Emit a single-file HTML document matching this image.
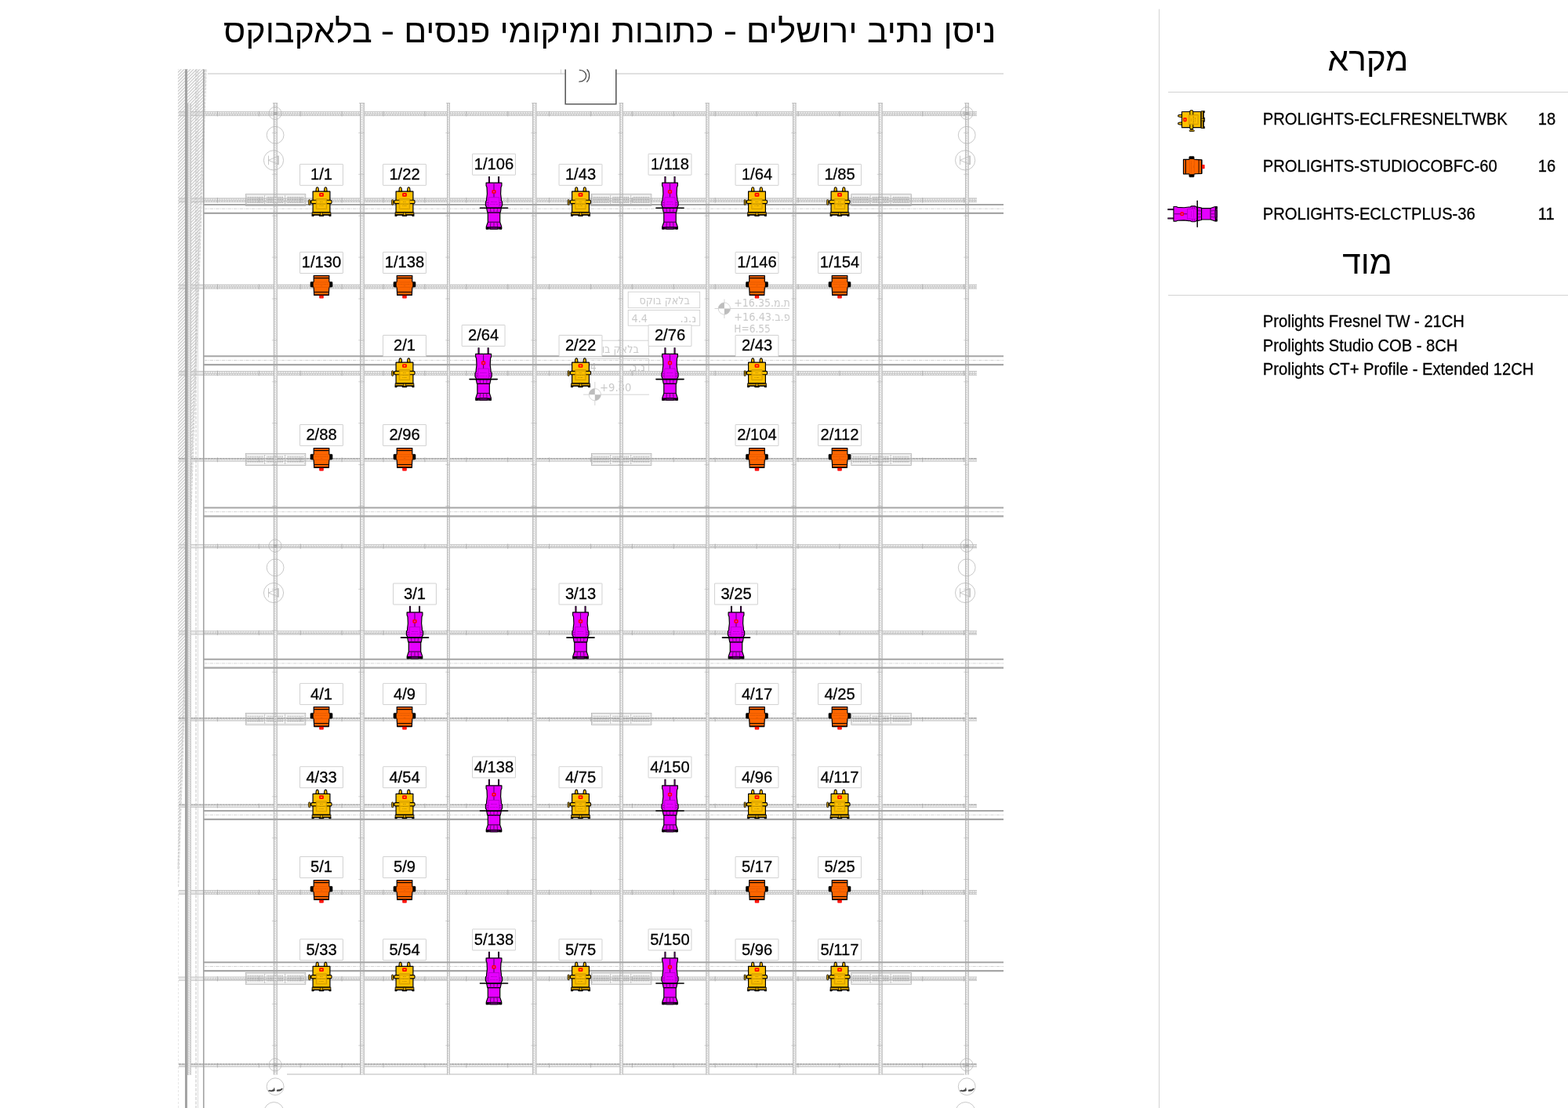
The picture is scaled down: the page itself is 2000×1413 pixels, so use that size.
<!DOCTYPE html>
<html lang="he">
<head>
<meta charset="utf-8">
<title>ניסן נתיב ירושלים - כתובות ומיקומי פנסים - בלאקבוקס</title>
<style>html,body{margin:0;padding:0;background:#fff;overflow:hidden}svg{display:block}</style>
</head>
<body>
<svg xmlns="http://www.w3.org/2000/svg" width="2000" height="1413" viewBox="0 0 2000 1413">
<defs>
<pattern id="hatch" width="4" height="4" patternUnits="userSpaceOnUse" patternTransform="translate(226.6 88.6)"><path d="M-1,5 L5,-1 M-1,1 L1,-1 M3,5 L5,3" stroke="#9c9c9c" stroke-width="0.95" fill="none"/></pattern>
<g id="fy" stroke="#000" stroke-width="1.2" stroke-linejoin="round">
<path d="M-7.2,35 L-6.7,31 Q-6.5,29.6 -5.3,29.6 Q-4.1,29.6 -3.9,31 L-3.4,35 Z" fill="#ffc000" stroke-width="1.1"/>
<path d="M3.4,35 L3.9,31 Q4.1,29.6 5.3,29.6 Q6.5,29.6 6.7,31 L7.2,35 Z" fill="#ffc000" stroke-width="1.1"/>
<rect x="-10.9" y="34.9" width="21.8" height="26.6" fill="#ffc000"/>
<rect x="-11.8" y="61.5" width="23.6" height="3.4" fill="#e0a600" stroke-width="0.9"/>
<path d="M-11.6,62 H11.6" stroke="#3a2c00" stroke-width="1.1"/>
<path d="M-12.2,64.4 H12.2 V66.6 H9.8 L9,65.3 H3.4 L2.8,66.6 H-2.8 L-3.4,65.3 H-9 L-9.8,66.6 H-12.2 Z" fill="#000" stroke-width="0.4"/>
<rect x="-1.25" y="61.8" width="2.5" height="3.6" fill="#ffc000" stroke-width="0.7"/>
<rect x="-16.3" y="45.5" width="1.9" height="6.6" rx="0.7" fill="#ffc000" stroke-width="0.9"/>
<rect x="-14.4" y="47.3" width="1.6" height="2.4" fill="#ffc000" stroke-width="0.7"/>
<rect x="-13" y="46.1" width="26" height="4.3" rx="1.2" fill="#ffc000" stroke-width="1.1"/>
<rect x="-6.7" y="44.3" width="13.3" height="13.1" fill="#ffc000" fill-opacity="0.88" stroke="#c49200" stroke-width="0.8"/>
<rect x="-5.5" y="45.5" width="10.9" height="10.7" fill="none" stroke="#d8a400" stroke-width="0.4"/>
<rect x="-2.05" y="37.7" width="4.1" height="3" rx="0.4" fill="#ffc000" stroke="#ff0000" stroke-width="1.7"/>
<g stroke="none" fill="#9a7400" font-family="'Liberation Sans',sans-serif" font-size="2.4" text-anchor="middle">
<text x="0" y="48.5">ECL</text><text x="0" y="51.4">FRESNEL</text><text x="0" y="54.3">TWBK</text></g>
</g>
<g id="fo" stroke="#000" stroke-width="1.2" stroke-linejoin="round">
<rect x="-14" y="38.1" width="4.2" height="6.7" rx="1" fill="#000" stroke-width="0.6"/>
<rect x="9.8" y="38.1" width="4.2" height="6.7" rx="1" fill="#000" stroke-width="0.6"/>
<path d="M-9.8,30.3 H9.8 V38.2 L10.9,39 V44.2 L9.8,45.2 L9.3,55.2 H-9.3 L-9.8,45.2 L-10.9,44.2 V39 L-9.8,38.2 Z" fill="#ff6600"/>
<path d="M-9.8,33.3 H9.8" stroke-width="1.2"/>
<path d="M-9.5,51.2 H9.5" stroke-width="1"/>
<path d="M-9.3,54.9 H9.3" stroke-width="1.5"/>
<path d="M-10.6,38.6 H10.6 M-10.6,45 H10.6" stroke="#d25400" stroke-width="0.6"/>
<rect x="-2.1" y="56.1" width="4.2" height="2.4" fill="#ff3a10" stroke="#ff0000" stroke-width="1.3"/>
<g stroke="none" fill="#c24e00" font-family="'Liberation Sans',sans-serif" font-size="2.4" text-anchor="middle">
<text x="0" y="41.4">STUDIOCOBFC</text><text x="0" y="44.2">60</text></g>
</g>
<g id="fm" stroke="#000" stroke-width="1.2" stroke-linejoin="round">
<path d="M-6.05,38 V29.8" stroke-width="2.1"/><path d="M-6.05,38 V30.6" stroke="#9000a0" stroke-width="0.6"/>
<path d="M6.05,38 V29.8" stroke-width="2.1"/><path d="M6.05,38 V30.6" stroke="#9000a0" stroke-width="0.6"/>
<path d="M-7.7,75.6 H7.7 V88 L9.6,93.6 V96.7 H-9.6 V93.6 L-7.7,88 Z" fill="#e600ff"/>
<path d="M-9.9,94.1 v2.9 h2.4 l0.8,-1.6 h13.4 l0.8,1.6 h2.4 v-2.9" fill="#000" stroke-width="0.5"/>
<rect x="-4.7" y="94.2" width="9.4" height="2.9" fill="#5a0066" stroke-width="0.6"/>
<path d="M-7.6,88 H7.6" stroke-width="0.8"/>
<path d="M-4,88.3 L-4.6,94 M0,88.3 V94 M4,88.3 L4.6,94" stroke="#70007e" stroke-width="1"/>
<path d="M-9.4,70 H9.4 L8.2,75.8 H-8.2 Z" fill="#e600ff"/>
<path d="M-4.5,70.3 L-4,75.6 M0,70.3 V75.6 M4.5,70.3 L4,75.6" stroke="#70007e" stroke-width="0.9"/>
<path d="M-9.9,37.9 H9.9 V41.5 L9,43.5 L8.6,52 L9.4,58.5 L9.4,60.8 Q10.6,61.3 10.6,62.6 V66.6 Q10.6,67.9 9.4,68.4 V70.2 H-9.4 V68.4 Q-10.6,67.9 -10.6,66.6 V62.6 Q-10.6,61.3 -9.4,60.8 L-9.4,58.5 L-8.6,52 L-9,43.5 L-9.9,41.5 Z" fill="#e600ff"/>
<path d="M0,38 V56.4" stroke="#60006c" stroke-width="1.1"/>
<path d="M-10.3,63.3 H-7 M-10.3,66 H-7 M7,63.3 H10.3 M7,66 H10.3" stroke="#60006c" stroke-width="0.7"/>
<rect x="-6.8" y="56.6" width="13.6" height="13" fill="#e600ff" stroke="#a400b8" stroke-width="0.7"/>
<path d="M-17.6,70.1 H17.6" stroke-width="1.6" stroke-linecap="round"/>
<rect x="-1.9" y="47.8" width="3.8" height="3.1" rx="0.4" fill="#e600ff" stroke="#ff0000" stroke-width="1.5"/>
<g stroke="none" fill="#8a009a" font-family="'Liberation Sans',sans-serif" font-size="2.5" text-anchor="middle">
<text x="0" y="62.6">ECLCT</text><text x="0" y="66">PLUS-36</text></g>
</g>
</defs>
<rect width="2000" height="1413" fill="#fff"/>
<g id="wall">
<path d="M226.9,88.3 H262.4 L226.9,1131 Z" fill="url(#hatch)"/>
<path d="M261.6,88.5 L226.9,1108 M263.2,88.5 L227.6,1131" stroke="#bdbdbd" stroke-width="0.7" stroke-dasharray="3.4 1.2" fill="none"/>
<path d="M227.5,1135 V1413" stroke="#dcdcdc" stroke-width="0.7" stroke-dasharray="3 2" fill="none"/>
</g>
<path d="M265,94 H1280" stroke="#d6d6d6" stroke-width="1.5"/>
<path d="M366,1370 H1230" stroke="#dcdcdc" stroke-width="1.8"/>
<path d="M715.5,88.5 V94.5" stroke="#c4c4c4" stroke-width="0.7"/>
<g id="annot" fill="none" stroke="#cacaca" stroke-width="0.8" font-family="'DejaVu Sans','Liberation Sans',sans-serif">
<rect x="801.2" y="372.2" width="91.5" height="20.5"/>
<rect x="801.2" y="395.4" width="91.5" height="19.8"/>
<text x="880.0" y="388.2" font-size="14" text-anchor="start" direction="rtl" fill="#cacaca" stroke="none" textLength="64.5" lengthAdjust="spacingAndGlyphs" xml:space="preserve">בלאק בוקס</text>
<text x="805.5" y="410.6" font-size="13.5" fill="#cacaca" stroke="none" textLength="20.5" lengthAdjust="spacingAndGlyphs">4.4</text>
<text x="888.3" y="410.6" font-size="13.5" text-anchor="start" direction="rtl" fill="#cacaca" stroke="none" textLength="21" lengthAdjust="spacingAndGlyphs">נ.נ.</text>
<rect x="736.0" y="434.2" width="91.5" height="20.5"/>
<rect x="736.0" y="457.4" width="91.5" height="19.8"/>
<text x="814.8" y="450.2" font-size="14" text-anchor="start" direction="rtl" fill="#cacaca" stroke="none" textLength="64.5" lengthAdjust="spacingAndGlyphs" xml:space="preserve">בלאק בוקס</text>
<text x="740.3" y="472.6" font-size="13.5" fill="#cacaca" stroke="none" textLength="20.5" lengthAdjust="spacingAndGlyphs">4.4</text>
<text x="823.1" y="472.6" font-size="13.5" text-anchor="start" direction="rtl" fill="#cacaca" stroke="none" textLength="21" lengthAdjust="spacingAndGlyphs">נ.נ.</text>
<path d="M911.5,393.5 H1006.7 M923.9,381.5 V406"/>
<circle cx="923.9" cy="393.5" r="7.6" fill="#fff"/>
<path d="M923.9,393.5 L916.3,393.5 A7.6,7.6 0 0 1 923.9,385.9 Z M923.9,393.5 L931.5,393.5 A7.6,7.6 0 0 1 923.9,401.1 Z" fill="#bdbdbd" stroke="none"/>
<path d="M744,503.2 H828 M758.8,487 V517"/>
<circle cx="758.8" cy="503.2" r="7.6" fill="#fff"/>
<path d="M758.8,503.2 L751.1999999999999,503.2 A7.6,7.6 0 0 1 758.8,495.59999999999997 Z M758.8,503.2 L766.4,503.2 A7.6,7.6 0 0 1 758.8,510.8 Z" fill="#bdbdbd" stroke="none"/>
<text x="936.3" y="391.2" font-size="14.5" fill="#cacaca" stroke="none" textLength="71.5" lengthAdjust="spacingAndGlyphs" style="unicode-bidi:bidi-override" direction="ltr">+16.35.מ.ת</text>
<text x="936.3" y="408.5" font-size="14.5" fill="#cacaca" stroke="none" textLength="71.5" lengthAdjust="spacingAndGlyphs" style="unicode-bidi:bidi-override" direction="ltr">+16.43.ב.פ</text>
<text x="936.3" y="423.5" font-size="13.5" fill="#cacaca" stroke="none" textLength="46.5" lengthAdjust="spacingAndGlyphs">H=6.55</text>
<text x="765" y="499" font-size="14.5" fill="#cacaca" stroke="none" textLength="40.3" lengthAdjust="spacingAndGlyphs">+9.80</text>
</g>
<g id="htruss">
<rect x="228.0" y="142.22" width="32.0" height="5.5" fill="#d4d4d4" fill-opacity="0.5"/>
<rect x="260.0" y="142.22" width="986.0" height="5.5" fill="#d8d8d8"/>
<path d="M228.0,142.67 H1246.0" stroke="#bcbcbc" stroke-width="0.9"/>
<path d="M228.0,147.27 H1246.0" stroke="#bcbcbc" stroke-width="0.9"/>
<path d="M260.0,145.17 H1246.0" stroke="#bababa" stroke-width="0.8" stroke-dasharray="2.6 0.6"/>
<path d="M260.0,143.92 H1246.0" stroke="#fff" stroke-width="1.1" stroke-dasharray="1.5 1.5"/>
<path d="M261.0,146.42 H1246.0" stroke="#fafafa" stroke-width="1" stroke-dasharray="1.3 2"/>
<path d="M277.4,141.72 V148.42 M330.3,141.72 V148.42 M383.2,141.72 V148.42 M436.1,141.72 V148.42 M489.0,141.72 V148.42 M541.9,141.72 V148.42 M594.8,141.72 V148.42 M647.7,141.72 V148.42 M700.6,141.72 V148.42 M753.5,141.72 V148.42 M806.4,141.72 V148.42 M859.3,141.72 V148.42 M912.2,141.72 V148.42 M965.1,141.72 V148.42 M1018.0,141.72 V148.42 M1070.9,141.72 V148.42 M1123.8,141.72 V148.42 M1176.7,141.72 V148.42 M1229.6,141.72 V148.42" stroke="#a4a4a4" stroke-width="0.7"/>
<rect x="228.0" y="252.54" width="32.0" height="5.5" fill="#d4d4d4" fill-opacity="0.5"/>
<rect x="260.0" y="252.54" width="986.0" height="5.5" fill="#d8d8d8"/>
<path d="M228.0,252.99 H1246.0" stroke="#bcbcbc" stroke-width="0.9"/>
<path d="M228.0,257.59 H1246.0" stroke="#bcbcbc" stroke-width="0.9"/>
<path d="M260.0,255.49 H1246.0" stroke="#bababa" stroke-width="0.8" stroke-dasharray="2.6 0.6"/>
<path d="M260.0,254.24 H1246.0" stroke="#fff" stroke-width="1.1" stroke-dasharray="1.5 1.5"/>
<path d="M261.0,256.74 H1246.0" stroke="#fafafa" stroke-width="1" stroke-dasharray="1.3 2"/>
<path d="M277.4,252.04 V258.74 M330.3,252.04 V258.74 M383.2,252.04 V258.74 M436.1,252.04 V258.74 M489.0,252.04 V258.74 M541.9,252.04 V258.74 M594.8,252.04 V258.74 M647.7,252.04 V258.74 M700.6,252.04 V258.74 M753.5,252.04 V258.74 M806.4,252.04 V258.74 M859.3,252.04 V258.74 M912.2,252.04 V258.74 M965.1,252.04 V258.74 M1018.0,252.04 V258.74 M1070.9,252.04 V258.74 M1123.8,252.04 V258.74 M1176.7,252.04 V258.74 M1229.6,252.04 V258.74" stroke="#a4a4a4" stroke-width="0.7"/>
<rect x="228.0" y="362.86" width="32.0" height="5.5" fill="#d4d4d4" fill-opacity="0.5"/>
<rect x="260.0" y="362.86" width="986.0" height="5.5" fill="#d8d8d8"/>
<path d="M228.0,363.31 H1246.0" stroke="#bcbcbc" stroke-width="0.9"/>
<path d="M228.0,367.91 H1246.0" stroke="#bcbcbc" stroke-width="0.9"/>
<path d="M260.0,365.81 H1246.0" stroke="#bababa" stroke-width="0.8" stroke-dasharray="2.6 0.6"/>
<path d="M260.0,364.56 H1246.0" stroke="#fff" stroke-width="1.1" stroke-dasharray="1.5 1.5"/>
<path d="M261.0,367.06 H1246.0" stroke="#fafafa" stroke-width="1" stroke-dasharray="1.3 2"/>
<path d="M277.4,362.36 V369.06 M330.3,362.36 V369.06 M383.2,362.36 V369.06 M436.1,362.36 V369.06 M489.0,362.36 V369.06 M541.9,362.36 V369.06 M594.8,362.36 V369.06 M647.7,362.36 V369.06 M700.6,362.36 V369.06 M753.5,362.36 V369.06 M806.4,362.36 V369.06 M859.3,362.36 V369.06 M912.2,362.36 V369.06 M965.1,362.36 V369.06 M1018.0,362.36 V369.06 M1070.9,362.36 V369.06 M1123.8,362.36 V369.06 M1176.7,362.36 V369.06 M1229.6,362.36 V369.06" stroke="#a4a4a4" stroke-width="0.7"/>
<rect x="228.0" y="473.18" width="32.0" height="5.5" fill="#d4d4d4" fill-opacity="0.5"/>
<rect x="260.0" y="473.18" width="986.0" height="5.5" fill="#d8d8d8"/>
<path d="M228.0,473.63 H1246.0" stroke="#bcbcbc" stroke-width="0.9"/>
<path d="M228.0,478.23 H1246.0" stroke="#bcbcbc" stroke-width="0.9"/>
<path d="M260.0,476.13 H1246.0" stroke="#bababa" stroke-width="0.8" stroke-dasharray="2.6 0.6"/>
<path d="M260.0,474.88 H1246.0" stroke="#fff" stroke-width="1.1" stroke-dasharray="1.5 1.5"/>
<path d="M261.0,477.38 H1246.0" stroke="#fafafa" stroke-width="1" stroke-dasharray="1.3 2"/>
<path d="M277.4,472.68 V479.38 M330.3,472.68 V479.38 M383.2,472.68 V479.38 M436.1,472.68 V479.38 M489.0,472.68 V479.38 M541.9,472.68 V479.38 M594.8,472.68 V479.38 M647.7,472.68 V479.38 M700.6,472.68 V479.38 M753.5,472.68 V479.38 M806.4,472.68 V479.38 M859.3,472.68 V479.38 M912.2,472.68 V479.38 M965.1,472.68 V479.38 M1018.0,472.68 V479.38 M1070.9,472.68 V479.38 M1123.8,472.68 V479.38 M1176.7,472.68 V479.38 M1229.6,472.68 V479.38" stroke="#a4a4a4" stroke-width="0.7"/>
<rect x="228.0" y="584.30" width="1018.0" height="4.30" fill="#e2e2e2"/>
<path d="M228.0,584.95 H1246.0" stroke="#adadad" stroke-width="1.7" stroke-dasharray="3.2 0.5"/>
<path d="M260.0,586.55 H1246.0" stroke="#fff" stroke-width="0.8" stroke-dasharray="1.4 2"/>
<path d="M228.0,588.15 H1246.0" stroke="#c8c8c8" stroke-width="0.9"/>
<path d="M277.4,583.40 V589.30 M330.3,583.40 V589.30 M383.2,583.40 V589.30 M436.1,583.40 V589.30 M489.0,583.40 V589.30 M541.9,583.40 V589.30 M594.8,583.40 V589.30 M647.7,583.40 V589.30 M700.6,583.40 V589.30 M753.5,583.40 V589.30 M806.4,583.40 V589.30 M859.3,583.40 V589.30 M912.2,583.40 V589.30 M965.1,583.40 V589.30 M1018.0,583.40 V589.30 M1070.9,583.40 V589.30 M1123.8,583.40 V589.30 M1176.7,583.40 V589.30 M1229.6,583.40 V589.30" stroke="#a4a4a4" stroke-width="0.7"/>
<rect x="228.0" y="694.02" width="32.0" height="5.1" fill="#dadada" fill-opacity="0.5"/>
<rect x="260.0" y="694.02" width="986.0" height="5.1" fill="#dedede"/>
<path d="M228.0,694.47 H1246.0 M228.0,698.67 H1246.0" stroke="#c4c4c4" stroke-width="0.9"/>
<path d="M260.0,696.97 H1246.0" stroke="#b8b8b8" stroke-width="0.9" stroke-dasharray="2.6 0.8"/>
<path d="M260.0,695.67 H1246.0" stroke="#fff" stroke-width="1" stroke-dasharray="1.5 1.7"/>
<path d="M277.4,693.52 V699.82 M330.3,693.52 V699.82 M383.2,693.52 V699.82 M436.1,693.52 V699.82 M489.0,693.52 V699.82 M541.9,693.52 V699.82 M594.8,693.52 V699.82 M647.7,693.52 V699.82 M700.6,693.52 V699.82 M753.5,693.52 V699.82 M806.4,693.52 V699.82 M859.3,693.52 V699.82 M912.2,693.52 V699.82 M965.1,693.52 V699.82 M1018.0,693.52 V699.82 M1070.9,693.52 V699.82 M1123.8,693.52 V699.82 M1176.7,693.52 V699.82 M1229.6,693.52 V699.82" stroke="#a4a4a4" stroke-width="0.7"/>
<rect x="228.0" y="804.34" width="32.0" height="5.1" fill="#dadada" fill-opacity="0.5"/>
<rect x="260.0" y="804.34" width="986.0" height="5.1" fill="#dedede"/>
<path d="M228.0,804.79 H1246.0 M228.0,808.99 H1246.0" stroke="#c4c4c4" stroke-width="0.9"/>
<path d="M260.0,807.29 H1246.0" stroke="#b8b8b8" stroke-width="0.9" stroke-dasharray="2.6 0.8"/>
<path d="M260.0,805.99 H1246.0" stroke="#fff" stroke-width="1" stroke-dasharray="1.5 1.7"/>
<path d="M277.4,803.84 V810.14 M330.3,803.84 V810.14 M383.2,803.84 V810.14 M436.1,803.84 V810.14 M489.0,803.84 V810.14 M541.9,803.84 V810.14 M594.8,803.84 V810.14 M647.7,803.84 V810.14 M700.6,803.84 V810.14 M753.5,803.84 V810.14 M806.4,803.84 V810.14 M859.3,803.84 V810.14 M912.2,803.84 V810.14 M965.1,803.84 V810.14 M1018.0,803.84 V810.14 M1070.9,803.84 V810.14 M1123.8,803.84 V810.14 M1176.7,803.84 V810.14 M1229.6,803.84 V810.14" stroke="#a4a4a4" stroke-width="0.7"/>
<rect x="228.0" y="915.26" width="1018.0" height="4.30" fill="#e2e2e2"/>
<path d="M228.0,915.91 H1246.0" stroke="#adadad" stroke-width="1.7" stroke-dasharray="3.2 0.5"/>
<path d="M260.0,917.51 H1246.0" stroke="#fff" stroke-width="0.8" stroke-dasharray="1.4 2"/>
<path d="M228.0,919.11 H1246.0" stroke="#c8c8c8" stroke-width="0.9"/>
<path d="M277.4,914.36 V920.26 M330.3,914.36 V920.26 M383.2,914.36 V920.26 M436.1,914.36 V920.26 M489.0,914.36 V920.26 M541.9,914.36 V920.26 M594.8,914.36 V920.26 M647.7,914.36 V920.26 M700.6,914.36 V920.26 M753.5,914.36 V920.26 M806.4,914.36 V920.26 M859.3,914.36 V920.26 M912.2,914.36 V920.26 M965.1,914.36 V920.26 M1018.0,914.36 V920.26 M1070.9,914.36 V920.26 M1123.8,914.36 V920.26 M1176.7,914.36 V920.26 M1229.6,914.36 V920.26" stroke="#a4a4a4" stroke-width="0.7"/>
<rect x="228.0" y="1025.58" width="1018.0" height="4.30" fill="#e2e2e2"/>
<path d="M228.0,1026.23 H1246.0" stroke="#adadad" stroke-width="1.7" stroke-dasharray="3.2 0.5"/>
<path d="M260.0,1027.83 H1246.0" stroke="#fff" stroke-width="0.8" stroke-dasharray="1.4 2"/>
<path d="M228.0,1029.43 H1246.0" stroke="#c8c8c8" stroke-width="0.9"/>
<path d="M277.4,1024.68 V1030.58 M330.3,1024.68 V1030.58 M383.2,1024.68 V1030.58 M436.1,1024.68 V1030.58 M489.0,1024.68 V1030.58 M541.9,1024.68 V1030.58 M594.8,1024.68 V1030.58 M647.7,1024.68 V1030.58 M700.6,1024.68 V1030.58 M753.5,1024.68 V1030.58 M806.4,1024.68 V1030.58 M859.3,1024.68 V1030.58 M912.2,1024.68 V1030.58 M965.1,1024.68 V1030.58 M1018.0,1024.68 V1030.58 M1070.9,1024.68 V1030.58 M1123.8,1024.68 V1030.58 M1176.7,1024.68 V1030.58 M1229.6,1024.68 V1030.58" stroke="#a4a4a4" stroke-width="0.7"/>
<rect x="228.0" y="1135.10" width="32.0" height="5.5" fill="#d4d4d4" fill-opacity="0.5"/>
<rect x="260.0" y="1135.10" width="986.0" height="5.5" fill="#d8d8d8"/>
<path d="M228.0,1135.55 H1246.0" stroke="#bcbcbc" stroke-width="0.9"/>
<path d="M228.0,1140.15 H1246.0" stroke="#bcbcbc" stroke-width="0.9"/>
<path d="M260.0,1138.05 H1246.0" stroke="#bababa" stroke-width="0.8" stroke-dasharray="2.6 0.6"/>
<path d="M260.0,1136.80 H1246.0" stroke="#fff" stroke-width="1.1" stroke-dasharray="1.5 1.5"/>
<path d="M261.0,1139.30 H1246.0" stroke="#fafafa" stroke-width="1" stroke-dasharray="1.3 2"/>
<path d="M277.4,1134.60 V1141.30 M330.3,1134.60 V1141.30 M383.2,1134.60 V1141.30 M436.1,1134.60 V1141.30 M489.0,1134.60 V1141.30 M541.9,1134.60 V1141.30 M594.8,1134.60 V1141.30 M647.7,1134.60 V1141.30 M700.6,1134.60 V1141.30 M753.5,1134.60 V1141.30 M806.4,1134.60 V1141.30 M859.3,1134.60 V1141.30 M912.2,1134.60 V1141.30 M965.1,1134.60 V1141.30 M1018.0,1134.60 V1141.30 M1070.9,1134.60 V1141.30 M1123.8,1134.60 V1141.30 M1176.7,1134.60 V1141.30 M1229.6,1134.60 V1141.30" stroke="#a4a4a4" stroke-width="0.7"/>
<rect x="228.0" y="1245.62" width="32.0" height="5.1" fill="#dadada" fill-opacity="0.5"/>
<rect x="260.0" y="1245.62" width="986.0" height="5.1" fill="#dedede"/>
<path d="M228.0,1246.07 H1246.0 M228.0,1250.27 H1246.0" stroke="#c4c4c4" stroke-width="0.9"/>
<path d="M260.0,1248.57 H1246.0" stroke="#b8b8b8" stroke-width="0.9" stroke-dasharray="2.6 0.8"/>
<path d="M260.0,1247.27 H1246.0" stroke="#fff" stroke-width="1" stroke-dasharray="1.5 1.7"/>
<path d="M277.4,1245.12 V1251.42 M330.3,1245.12 V1251.42 M383.2,1245.12 V1251.42 M436.1,1245.12 V1251.42 M489.0,1245.12 V1251.42 M541.9,1245.12 V1251.42 M594.8,1245.12 V1251.42 M647.7,1245.12 V1251.42 M700.6,1245.12 V1251.42 M753.5,1245.12 V1251.42 M806.4,1245.12 V1251.42 M859.3,1245.12 V1251.42 M912.2,1245.12 V1251.42 M965.1,1245.12 V1251.42 M1018.0,1245.12 V1251.42 M1070.9,1245.12 V1251.42 M1123.8,1245.12 V1251.42 M1176.7,1245.12 V1251.42 M1229.6,1245.12 V1251.42" stroke="#a4a4a4" stroke-width="0.7"/>
<rect x="228.0" y="1356.54" width="1018.0" height="4.30" fill="#e2e2e2"/>
<path d="M228.0,1357.19 H1246.0" stroke="#adadad" stroke-width="1.7" stroke-dasharray="3.2 0.5"/>
<path d="M260.0,1358.79 H1246.0" stroke="#fff" stroke-width="0.8" stroke-dasharray="1.4 2"/>
<path d="M228.0,1360.39 H1246.0" stroke="#c8c8c8" stroke-width="0.9"/>
<path d="M277.4,1355.64 V1361.54 M330.3,1355.64 V1361.54 M383.2,1355.64 V1361.54 M436.1,1355.64 V1361.54 M489.0,1355.64 V1361.54 M541.9,1355.64 V1361.54 M594.8,1355.64 V1361.54 M647.7,1355.64 V1361.54 M700.6,1355.64 V1361.54 M753.5,1355.64 V1361.54 M806.4,1355.64 V1361.54 M859.3,1355.64 V1361.54 M912.2,1355.64 V1361.54 M965.1,1355.64 V1361.54 M1018.0,1355.64 V1361.54 M1070.9,1355.64 V1361.54 M1123.8,1355.64 V1361.54 M1176.7,1355.64 V1361.54 M1229.6,1355.64 V1361.54" stroke="#a4a4a4" stroke-width="0.7"/>
</g>
<g id="vtruss">
<rect x="348.90" y="131.5" width="5.0" height="1239.0" fill="#d8d8d8"/>
<path d="M349.35,131.5 V1370.5" stroke="#b2b2b2" stroke-width="0.9"/>
<path d="M353.45,131.5 V1370.5" stroke="#c0c0c0" stroke-width="0.9"/>
<path d="M351.06,132.1 V1370.5" stroke="#fff" stroke-width="1.44" stroke-dasharray="1.7 1.3" stroke-opacity="0.85"/>
<path d="M352.36,133.5 V1370.5" stroke="#f2f2f2" stroke-width="0.87" stroke-dasharray="1.2 1.8"/>
<path d="M347.90,131.5 H354.10" stroke="#b4b4b4" stroke-width="0.8"/>
<path d="M346.90,169.4 H353.90 M346.90,222.3 H353.90 M346.90,275.2 H353.90 M346.90,328.1 H353.90 M346.90,381.0 H353.90 M346.90,433.9 H353.90 M346.90,486.8 H353.90 M346.90,539.7 H353.90 M346.90,592.6 H353.90 M346.90,645.5 H353.90 M346.90,698.4 H353.90 M346.90,751.3 H353.90 M346.90,804.2 H353.90 M346.90,857.1 H353.90 M346.90,910.0 H353.90 M346.90,962.9 H353.90 M346.90,1015.8 H353.90 M346.90,1068.7 H353.90 M346.90,1121.6 H353.90 M346.90,1174.5 H353.90 M346.90,1227.4 H353.90 M346.90,1280.3 H353.90 M346.90,1333.2 H353.90" stroke="#b4b4b4" stroke-width="0.6"/>
<rect x="459.10" y="131.5" width="5.8" height="1239.0" fill="#d8d8d8"/>
<path d="M459.55,131.5 V1370.5" stroke="#b2b2b2" stroke-width="0.9"/>
<path d="M464.45,131.5 V1370.5" stroke="#c0c0c0" stroke-width="0.9"/>
<path d="M461.61,132.1 V1370.5" stroke="#fff" stroke-width="1.67" stroke-dasharray="1.7 1.3" stroke-opacity="0.85"/>
<path d="M463.12,133.5 V1370.5" stroke="#f2f2f2" stroke-width="1.00" stroke-dasharray="1.2 1.8"/>
<path d="M458.10,131.5 H465.10" stroke="#b4b4b4" stroke-width="0.8"/>
<path d="M457.10,169.4 H464.90 M457.10,222.3 H464.90 M457.10,275.2 H464.90 M457.10,328.1 H464.90 M457.10,381.0 H464.90 M457.10,433.9 H464.90 M457.10,486.8 H464.90 M457.10,539.7 H464.90 M457.10,592.6 H464.90 M457.10,645.5 H464.90 M457.10,698.4 H464.90 M457.10,751.3 H464.90 M457.10,804.2 H464.90 M457.10,857.1 H464.90 M457.10,910.0 H464.90 M457.10,962.9 H464.90 M457.10,1015.8 H464.90 M457.10,1068.7 H464.90 M457.10,1121.6 H464.90 M457.10,1174.5 H464.90 M457.10,1227.4 H464.90 M457.10,1280.3 H464.90 M457.10,1333.2 H464.90" stroke="#b4b4b4" stroke-width="0.6"/>
<rect x="570.20" y="131.5" width="3.7" height="1239.0" fill="#d8d8d8"/>
<path d="M570.65,131.5 V1370.5" stroke="#b2b2b2" stroke-width="0.9"/>
<path d="M573.45,131.5 V1370.5" stroke="#c0c0c0" stroke-width="0.9"/>
<path d="M571.80,132.1 V1370.5" stroke="#fff" stroke-width="1.07" stroke-dasharray="1.7 1.3" stroke-opacity="0.85"/>
<path d="M572.76,133.5 V1370.5" stroke="#f2f2f2" stroke-width="0.64" stroke-dasharray="1.2 1.8"/>
<path d="M569.20,131.5 H574.10" stroke="#b4b4b4" stroke-width="0.8"/>
<path d="M568.20,169.4 H573.90 M568.20,222.3 H573.90 M568.20,275.2 H573.90 M568.20,328.1 H573.90 M568.20,381.0 H573.90 M568.20,433.9 H573.90 M568.20,486.8 H573.90 M568.20,539.7 H573.90 M568.20,592.6 H573.90 M568.20,645.5 H573.90 M568.20,698.4 H573.90 M568.20,751.3 H573.90 M568.20,804.2 H573.90 M568.20,857.1 H573.90 M568.20,910.0 H573.90 M568.20,962.9 H573.90 M568.20,1015.8 H573.90 M568.20,1068.7 H573.90 M568.20,1121.6 H573.90 M568.20,1174.5 H573.90 M568.20,1227.4 H573.90 M568.20,1280.3 H573.90 M568.20,1333.2 H573.90" stroke="#b4b4b4" stroke-width="0.6"/>
<rect x="679.20" y="131.5" width="5.2" height="1239.0" fill="#d8d8d8"/>
<path d="M679.65,131.5 V1370.5" stroke="#b2b2b2" stroke-width="0.9"/>
<path d="M683.95,131.5 V1370.5" stroke="#c0c0c0" stroke-width="0.9"/>
<path d="M681.45,132.1 V1370.5" stroke="#fff" stroke-width="1.50" stroke-dasharray="1.7 1.3" stroke-opacity="0.85"/>
<path d="M682.80,133.5 V1370.5" stroke="#f2f2f2" stroke-width="0.90" stroke-dasharray="1.2 1.8"/>
<path d="M678.20,131.5 H684.60" stroke="#b4b4b4" stroke-width="0.8"/>
<path d="M677.20,169.4 H684.40 M677.20,222.3 H684.40 M677.20,275.2 H684.40 M677.20,328.1 H684.40 M677.20,381.0 H684.40 M677.20,433.9 H684.40 M677.20,486.8 H684.40 M677.20,539.7 H684.40 M677.20,592.6 H684.40 M677.20,645.5 H684.40 M677.20,698.4 H684.40 M677.20,751.3 H684.40 M677.20,804.2 H684.40 M677.20,857.1 H684.40 M677.20,910.0 H684.40 M677.20,962.9 H684.40 M677.20,1015.8 H684.40 M677.20,1068.7 H684.40 M677.20,1121.6 H684.40 M677.20,1174.5 H684.40 M677.20,1227.4 H684.40 M677.20,1280.3 H684.40 M677.20,1333.2 H684.40" stroke="#b4b4b4" stroke-width="0.6"/>
<rect x="790.45" y="131.5" width="4.5" height="1239.0" fill="#d8d8d8"/>
<path d="M790.90,131.5 V1370.5" stroke="#b2b2b2" stroke-width="0.9"/>
<path d="M794.50,131.5 V1370.5" stroke="#c0c0c0" stroke-width="0.9"/>
<path d="M792.40,132.1 V1370.5" stroke="#fff" stroke-width="1.30" stroke-dasharray="1.7 1.3" stroke-opacity="0.85"/>
<path d="M793.57,133.5 V1370.5" stroke="#f2f2f2" stroke-width="0.78" stroke-dasharray="1.2 1.8"/>
<path d="M789.45,131.5 H795.15" stroke="#b4b4b4" stroke-width="0.8"/>
<path d="M788.45,169.4 H794.95 M788.45,222.3 H794.95 M788.45,275.2 H794.95 M788.45,328.1 H794.95 M788.45,381.0 H794.95 M788.45,433.9 H794.95 M788.45,486.8 H794.95 M788.45,539.7 H794.95 M788.45,592.6 H794.95 M788.45,645.5 H794.95 M788.45,698.4 H794.95 M788.45,751.3 H794.95 M788.45,804.2 H794.95 M788.45,857.1 H794.95 M788.45,910.0 H794.95 M788.45,962.9 H794.95 M788.45,1015.8 H794.95 M788.45,1068.7 H794.95 M788.45,1121.6 H794.95 M788.45,1174.5 H794.95 M788.45,1227.4 H794.95 M788.45,1280.3 H794.95 M788.45,1333.2 H794.95" stroke="#b4b4b4" stroke-width="0.6"/>
<rect x="900.45" y="131.5" width="4.1" height="1239.0" fill="#d8d8d8"/>
<path d="M900.90,131.5 V1370.5" stroke="#b2b2b2" stroke-width="0.9"/>
<path d="M904.10,131.5 V1370.5" stroke="#c0c0c0" stroke-width="0.9"/>
<path d="M902.22,132.1 V1370.5" stroke="#fff" stroke-width="1.18" stroke-dasharray="1.7 1.3" stroke-opacity="0.85"/>
<path d="M903.29,133.5 V1370.5" stroke="#f2f2f2" stroke-width="0.71" stroke-dasharray="1.2 1.8"/>
<path d="M899.45,131.5 H904.75" stroke="#b4b4b4" stroke-width="0.8"/>
<path d="M898.45,169.4 H904.55 M898.45,222.3 H904.55 M898.45,275.2 H904.55 M898.45,328.1 H904.55 M898.45,381.0 H904.55 M898.45,433.9 H904.55 M898.45,486.8 H904.55 M898.45,539.7 H904.55 M898.45,592.6 H904.55 M898.45,645.5 H904.55 M898.45,698.4 H904.55 M898.45,751.3 H904.55 M898.45,804.2 H904.55 M898.45,857.1 H904.55 M898.45,910.0 H904.55 M898.45,962.9 H904.55 M898.45,1015.8 H904.55 M898.45,1068.7 H904.55 M898.45,1121.6 H904.55 M898.45,1174.5 H904.55 M898.45,1227.4 H904.55 M898.45,1280.3 H904.55 M898.45,1333.2 H904.55" stroke="#b4b4b4" stroke-width="0.6"/>
<rect x="1011.15" y="131.5" width="4.3" height="1239.0" fill="#d8d8d8"/>
<path d="M1011.60,131.5 V1370.5" stroke="#b2b2b2" stroke-width="0.9"/>
<path d="M1015.00,131.5 V1370.5" stroke="#c0c0c0" stroke-width="0.9"/>
<path d="M1013.01,132.1 V1370.5" stroke="#fff" stroke-width="1.24" stroke-dasharray="1.7 1.3" stroke-opacity="0.85"/>
<path d="M1014.13,133.5 V1370.5" stroke="#f2f2f2" stroke-width="0.74" stroke-dasharray="1.2 1.8"/>
<path d="M1010.15,131.5 H1015.65" stroke="#b4b4b4" stroke-width="0.8"/>
<path d="M1009.15,169.4 H1015.45 M1009.15,222.3 H1015.45 M1009.15,275.2 H1015.45 M1009.15,328.1 H1015.45 M1009.15,381.0 H1015.45 M1009.15,433.9 H1015.45 M1009.15,486.8 H1015.45 M1009.15,539.7 H1015.45 M1009.15,592.6 H1015.45 M1009.15,645.5 H1015.45 M1009.15,698.4 H1015.45 M1009.15,751.3 H1015.45 M1009.15,804.2 H1015.45 M1009.15,857.1 H1015.45 M1009.15,910.0 H1015.45 M1009.15,962.9 H1015.45 M1009.15,1015.8 H1015.45 M1009.15,1068.7 H1015.45 M1009.15,1121.6 H1015.45 M1009.15,1174.5 H1015.45 M1009.15,1227.4 H1015.45 M1009.15,1280.3 H1015.45 M1009.15,1333.2 H1015.45" stroke="#b4b4b4" stroke-width="0.6"/>
<rect x="1120.75" y="131.5" width="4.9" height="1239.0" fill="#d8d8d8"/>
<path d="M1121.20,131.5 V1370.5" stroke="#b2b2b2" stroke-width="0.9"/>
<path d="M1125.20,131.5 V1370.5" stroke="#c0c0c0" stroke-width="0.9"/>
<path d="M1122.87,132.1 V1370.5" stroke="#fff" stroke-width="1.41" stroke-dasharray="1.7 1.3" stroke-opacity="0.85"/>
<path d="M1124.14,133.5 V1370.5" stroke="#f2f2f2" stroke-width="0.85" stroke-dasharray="1.2 1.8"/>
<path d="M1119.75,131.5 H1125.85" stroke="#b4b4b4" stroke-width="0.8"/>
<path d="M1118.75,169.4 H1125.65 M1118.75,222.3 H1125.65 M1118.75,275.2 H1125.65 M1118.75,328.1 H1125.65 M1118.75,381.0 H1125.65 M1118.75,433.9 H1125.65 M1118.75,486.8 H1125.65 M1118.75,539.7 H1125.65 M1118.75,592.6 H1125.65 M1118.75,645.5 H1125.65 M1118.75,698.4 H1125.65 M1118.75,751.3 H1125.65 M1118.75,804.2 H1125.65 M1118.75,857.1 H1125.65 M1118.75,910.0 H1125.65 M1118.75,962.9 H1125.65 M1118.75,1015.8 H1125.65 M1118.75,1068.7 H1125.65 M1118.75,1121.6 H1125.65 M1118.75,1174.5 H1125.65 M1118.75,1227.4 H1125.65 M1118.75,1280.3 H1125.65 M1118.75,1333.2 H1125.65" stroke="#b4b4b4" stroke-width="0.6"/>
<rect x="1231.20" y="131.5" width="4.6" height="1239.0" fill="#d8d8d8"/>
<path d="M1231.65,131.5 V1370.5" stroke="#b2b2b2" stroke-width="0.9"/>
<path d="M1235.35,131.5 V1370.5" stroke="#c0c0c0" stroke-width="0.9"/>
<path d="M1233.19,132.1 V1370.5" stroke="#fff" stroke-width="1.33" stroke-dasharray="1.7 1.3" stroke-opacity="0.85"/>
<path d="M1234.38,133.5 V1370.5" stroke="#f2f2f2" stroke-width="0.80" stroke-dasharray="1.2 1.8"/>
<path d="M1230.20,131.5 H1236.00" stroke="#b4b4b4" stroke-width="0.8"/>
<path d="M1229.20,169.4 H1235.80 M1229.20,222.3 H1235.80 M1229.20,275.2 H1235.80 M1229.20,328.1 H1235.80 M1229.20,381.0 H1235.80 M1229.20,433.9 H1235.80 M1229.20,486.8 H1235.80 M1229.20,539.7 H1235.80 M1229.20,592.6 H1235.80 M1229.20,645.5 H1235.80 M1229.20,698.4 H1235.80 M1229.20,751.3 H1235.80 M1229.20,804.2 H1235.80 M1229.20,857.1 H1235.80 M1229.20,910.0 H1235.80 M1229.20,962.9 H1235.80 M1229.20,1015.8 H1235.80 M1229.20,1068.7 H1235.80 M1229.20,1121.6 H1235.80 M1229.20,1174.5 H1235.80 M1229.20,1227.4 H1235.80 M1229.20,1280.3 H1235.80 M1229.20,1333.2 H1235.80" stroke="#b4b4b4" stroke-width="0.6"/>
</g>
<g id="wall2">
<rect x="239.20" y="132" width="4.4" height="1239" fill="#d8d8d8"/>
<path d="M239.65,132 V1371" stroke="#b2b2b2" stroke-width="0.9"/>
<path d="M243.15,132 V1371" stroke="#c0c0c0" stroke-width="0.9"/>
<path d="M241.10,132.6 V1371" stroke="#fff" stroke-width="1.27" stroke-dasharray="1.7 1.3" stroke-opacity="0.85"/>
<path d="M242.25,134 V1371" stroke="#f2f2f2" stroke-width="0.76" stroke-dasharray="1.2 1.8"/>
<path d="M237.4,88.3 V1413" stroke="#a0a0a0" stroke-width="2.9"/>
<path d="M250,88.5 V1413" stroke="#b4b4b4" stroke-width="0.8" stroke-dasharray="4 1.6"/>
<path d="M252.4,88.5 V1413" stroke="#cfcfcf" stroke-width="0.7"/>
<path d="M259.75,88.3 V1413" stroke="#a2a2a2" stroke-width="1.6"/>
</g>
<g id="pipes">
<path d="M260.0,260.95 H1280.0" stroke="#a6a6a6" stroke-width="1.9"/>
<path d="M260.0,271.85 H1280.0" stroke="#a6a6a6" stroke-width="2.1"/>
<path d="M260.0,266.20 H1280.0" stroke="#d2d2d2" stroke-width="1" stroke-dasharray="4.4 1 1.2 1"/>
<path d="M260.0,454.20 H1280.0" stroke="#a6a6a6" stroke-width="1.9"/>
<path d="M260.0,465.10 H1280.0" stroke="#a6a6a6" stroke-width="2.1"/>
<path d="M260.0,459.45 H1280.0" stroke="#d2d2d2" stroke-width="1" stroke-dasharray="4.4 1 1.2 1"/>
<path d="M260.0,647.45 H1280.0" stroke="#a6a6a6" stroke-width="1.9"/>
<path d="M260.0,658.35 H1280.0" stroke="#a6a6a6" stroke-width="2.1"/>
<path d="M260.0,652.70 H1280.0" stroke="#d2d2d2" stroke-width="1" stroke-dasharray="4.4 1 1.2 1"/>
<path d="M260.0,840.70 H1280.0" stroke="#a6a6a6" stroke-width="1.9"/>
<path d="M260.0,851.60 H1280.0" stroke="#a6a6a6" stroke-width="2.1"/>
<path d="M260.0,845.95 H1280.0" stroke="#d2d2d2" stroke-width="1" stroke-dasharray="4.4 1 1.2 1"/>
<path d="M260.0,1033.95 H1280.0" stroke="#a6a6a6" stroke-width="1.9"/>
<path d="M260.0,1044.85 H1280.0" stroke="#a6a6a6" stroke-width="2.1"/>
<path d="M260.0,1039.20 H1280.0" stroke="#d2d2d2" stroke-width="1" stroke-dasharray="4.4 1 1.2 1"/>
<path d="M260.0,1227.20 H1280.0" stroke="#a6a6a6" stroke-width="1.9"/>
<path d="M260.0,1238.10 H1280.0" stroke="#a6a6a6" stroke-width="2.1"/>
<path d="M260.0,1232.45 H1280.0" stroke="#d2d2d2" stroke-width="1" stroke-dasharray="4.4 1 1.2 1"/>
</g>
<g id="strips">
<g stroke="#b0b0b0" stroke-width="0.8" fill="none">
<rect x="313.3" y="247.6" width="76.5" height="14.8"/>
<rect x="314.3" y="249.0" width="74.5" height="12" stroke="#c0c0c0" stroke-width="0.6"/>
<path d="M337.6,249.0 v12 M363.6,249.0 v12"/>
<path d="M315.5,251.6 h20.5" stroke="#a2a2a2" stroke-width="1.7" stroke-dasharray="1 0.8"/>
<path d="M315.5,254.7 h20.5" stroke="#a2a2a2" stroke-width="1.7" stroke-dasharray="1 0.8"/>
<path d="M315.5,257.8 h20.5" stroke="#a2a2a2" stroke-width="1.7" stroke-dasharray="1 0.8"/>
<path d="M340.3,251.6 h21" stroke="#a2a2a2" stroke-width="1.7" stroke-dasharray="1 0.8"/>
<path d="M340.3,254.7 h21" stroke="#a2a2a2" stroke-width="1.7" stroke-dasharray="1 0.8"/>
<path d="M340.3,257.8 h21" stroke="#a2a2a2" stroke-width="1.7" stroke-dasharray="1 0.8"/>
<path d="M366.3,251.6 h21" stroke="#a2a2a2" stroke-width="1.7" stroke-dasharray="1 0.8"/>
<path d="M366.3,254.7 h21" stroke="#a2a2a2" stroke-width="1.7" stroke-dasharray="1 0.8"/>
<path d="M366.3,257.8 h21" stroke="#a2a2a2" stroke-width="1.7" stroke-dasharray="1 0.8"/>
</g>
<g stroke="#b0b0b0" stroke-width="0.8" fill="none">
<rect x="754.4" y="247.6" width="76.5" height="14.8"/>
<rect x="755.4" y="249.0" width="74.5" height="12" stroke="#c0c0c0" stroke-width="0.6"/>
<path d="M778.6999999999999,249.0 v12 M804.6999999999999,249.0 v12"/>
<path d="M756.6,251.6 h20.5" stroke="#a2a2a2" stroke-width="1.7" stroke-dasharray="1 0.8"/>
<path d="M756.6,254.7 h20.5" stroke="#a2a2a2" stroke-width="1.7" stroke-dasharray="1 0.8"/>
<path d="M756.6,257.8 h20.5" stroke="#a2a2a2" stroke-width="1.7" stroke-dasharray="1 0.8"/>
<path d="M781.4,251.6 h21" stroke="#a2a2a2" stroke-width="1.7" stroke-dasharray="1 0.8"/>
<path d="M781.4,254.7 h21" stroke="#a2a2a2" stroke-width="1.7" stroke-dasharray="1 0.8"/>
<path d="M781.4,257.8 h21" stroke="#a2a2a2" stroke-width="1.7" stroke-dasharray="1 0.8"/>
<path d="M807.4,251.6 h21" stroke="#a2a2a2" stroke-width="1.7" stroke-dasharray="1 0.8"/>
<path d="M807.4,254.7 h21" stroke="#a2a2a2" stroke-width="1.7" stroke-dasharray="1 0.8"/>
<path d="M807.4,257.8 h21" stroke="#a2a2a2" stroke-width="1.7" stroke-dasharray="1 0.8"/>
</g>
<g stroke="#b0b0b0" stroke-width="0.8" fill="none">
<rect x="1085.8" y="247.6" width="76.5" height="14.8"/>
<rect x="1086.8" y="249.0" width="74.5" height="12" stroke="#c0c0c0" stroke-width="0.6"/>
<path d="M1110.1,249.0 v12 M1136.1,249.0 v12"/>
<path d="M1088.0,251.6 h20.5" stroke="#a2a2a2" stroke-width="1.7" stroke-dasharray="1 0.8"/>
<path d="M1088.0,254.7 h20.5" stroke="#a2a2a2" stroke-width="1.7" stroke-dasharray="1 0.8"/>
<path d="M1088.0,257.8 h20.5" stroke="#a2a2a2" stroke-width="1.7" stroke-dasharray="1 0.8"/>
<path d="M1112.8,251.6 h21" stroke="#a2a2a2" stroke-width="1.7" stroke-dasharray="1 0.8"/>
<path d="M1112.8,254.7 h21" stroke="#a2a2a2" stroke-width="1.7" stroke-dasharray="1 0.8"/>
<path d="M1112.8,257.8 h21" stroke="#a2a2a2" stroke-width="1.7" stroke-dasharray="1 0.8"/>
<path d="M1138.8,251.6 h21" stroke="#a2a2a2" stroke-width="1.7" stroke-dasharray="1 0.8"/>
<path d="M1138.8,254.7 h21" stroke="#a2a2a2" stroke-width="1.7" stroke-dasharray="1 0.8"/>
<path d="M1138.8,257.8 h21" stroke="#a2a2a2" stroke-width="1.7" stroke-dasharray="1 0.8"/>
</g>
<g stroke="#b0b0b0" stroke-width="0.8" fill="none">
<rect x="313.3" y="578.6" width="76.5" height="14.8"/>
<rect x="314.3" y="580.0" width="74.5" height="12" stroke="#c0c0c0" stroke-width="0.6"/>
<path d="M337.6,580.0 v12 M363.6,580.0 v12"/>
<path d="M315.5,582.6 h20.5" stroke="#a2a2a2" stroke-width="1.7" stroke-dasharray="1 0.8"/>
<path d="M315.5,585.7 h20.5" stroke="#a2a2a2" stroke-width="1.7" stroke-dasharray="1 0.8"/>
<path d="M315.5,588.8 h20.5" stroke="#a2a2a2" stroke-width="1.7" stroke-dasharray="1 0.8"/>
<path d="M340.3,582.6 h21" stroke="#a2a2a2" stroke-width="1.7" stroke-dasharray="1 0.8"/>
<path d="M340.3,585.7 h21" stroke="#a2a2a2" stroke-width="1.7" stroke-dasharray="1 0.8"/>
<path d="M340.3,588.8 h21" stroke="#a2a2a2" stroke-width="1.7" stroke-dasharray="1 0.8"/>
<path d="M366.3,582.6 h21" stroke="#a2a2a2" stroke-width="1.7" stroke-dasharray="1 0.8"/>
<path d="M366.3,585.7 h21" stroke="#a2a2a2" stroke-width="1.7" stroke-dasharray="1 0.8"/>
<path d="M366.3,588.8 h21" stroke="#a2a2a2" stroke-width="1.7" stroke-dasharray="1 0.8"/>
</g>
<g stroke="#b0b0b0" stroke-width="0.8" fill="none">
<rect x="754.4" y="578.6" width="76.5" height="14.8"/>
<rect x="755.4" y="580.0" width="74.5" height="12" stroke="#c0c0c0" stroke-width="0.6"/>
<path d="M778.6999999999999,580.0 v12 M804.6999999999999,580.0 v12"/>
<path d="M756.6,582.6 h20.5" stroke="#a2a2a2" stroke-width="1.7" stroke-dasharray="1 0.8"/>
<path d="M756.6,585.7 h20.5" stroke="#a2a2a2" stroke-width="1.7" stroke-dasharray="1 0.8"/>
<path d="M756.6,588.8 h20.5" stroke="#a2a2a2" stroke-width="1.7" stroke-dasharray="1 0.8"/>
<path d="M781.4,582.6 h21" stroke="#a2a2a2" stroke-width="1.7" stroke-dasharray="1 0.8"/>
<path d="M781.4,585.7 h21" stroke="#a2a2a2" stroke-width="1.7" stroke-dasharray="1 0.8"/>
<path d="M781.4,588.8 h21" stroke="#a2a2a2" stroke-width="1.7" stroke-dasharray="1 0.8"/>
<path d="M807.4,582.6 h21" stroke="#a2a2a2" stroke-width="1.7" stroke-dasharray="1 0.8"/>
<path d="M807.4,585.7 h21" stroke="#a2a2a2" stroke-width="1.7" stroke-dasharray="1 0.8"/>
<path d="M807.4,588.8 h21" stroke="#a2a2a2" stroke-width="1.7" stroke-dasharray="1 0.8"/>
</g>
<g stroke="#b0b0b0" stroke-width="0.8" fill="none">
<rect x="1085.8" y="578.6" width="76.5" height="14.8"/>
<rect x="1086.8" y="580.0" width="74.5" height="12" stroke="#c0c0c0" stroke-width="0.6"/>
<path d="M1110.1,580.0 v12 M1136.1,580.0 v12"/>
<path d="M1088.0,582.6 h20.5" stroke="#a2a2a2" stroke-width="1.7" stroke-dasharray="1 0.8"/>
<path d="M1088.0,585.7 h20.5" stroke="#a2a2a2" stroke-width="1.7" stroke-dasharray="1 0.8"/>
<path d="M1088.0,588.8 h20.5" stroke="#a2a2a2" stroke-width="1.7" stroke-dasharray="1 0.8"/>
<path d="M1112.8,582.6 h21" stroke="#a2a2a2" stroke-width="1.7" stroke-dasharray="1 0.8"/>
<path d="M1112.8,585.7 h21" stroke="#a2a2a2" stroke-width="1.7" stroke-dasharray="1 0.8"/>
<path d="M1112.8,588.8 h21" stroke="#a2a2a2" stroke-width="1.7" stroke-dasharray="1 0.8"/>
<path d="M1138.8,582.6 h21" stroke="#a2a2a2" stroke-width="1.7" stroke-dasharray="1 0.8"/>
<path d="M1138.8,585.7 h21" stroke="#a2a2a2" stroke-width="1.7" stroke-dasharray="1 0.8"/>
<path d="M1138.8,588.8 h21" stroke="#a2a2a2" stroke-width="1.7" stroke-dasharray="1 0.8"/>
</g>
<g stroke="#b0b0b0" stroke-width="0.8" fill="none">
<rect x="313.3" y="909.5" width="76.5" height="14.8"/>
<rect x="314.3" y="910.9" width="74.5" height="12" stroke="#c0c0c0" stroke-width="0.6"/>
<path d="M337.6,910.9 v12 M363.6,910.9 v12"/>
<path d="M315.5,913.5 h20.5" stroke="#a2a2a2" stroke-width="1.7" stroke-dasharray="1 0.8"/>
<path d="M315.5,916.6 h20.5" stroke="#a2a2a2" stroke-width="1.7" stroke-dasharray="1 0.8"/>
<path d="M315.5,919.7 h20.5" stroke="#a2a2a2" stroke-width="1.7" stroke-dasharray="1 0.8"/>
<path d="M340.3,913.5 h21" stroke="#a2a2a2" stroke-width="1.7" stroke-dasharray="1 0.8"/>
<path d="M340.3,916.6 h21" stroke="#a2a2a2" stroke-width="1.7" stroke-dasharray="1 0.8"/>
<path d="M340.3,919.7 h21" stroke="#a2a2a2" stroke-width="1.7" stroke-dasharray="1 0.8"/>
<path d="M366.3,913.5 h21" stroke="#a2a2a2" stroke-width="1.7" stroke-dasharray="1 0.8"/>
<path d="M366.3,916.6 h21" stroke="#a2a2a2" stroke-width="1.7" stroke-dasharray="1 0.8"/>
<path d="M366.3,919.7 h21" stroke="#a2a2a2" stroke-width="1.7" stroke-dasharray="1 0.8"/>
</g>
<g stroke="#b0b0b0" stroke-width="0.8" fill="none">
<rect x="754.4" y="909.5" width="76.5" height="14.8"/>
<rect x="755.4" y="910.9" width="74.5" height="12" stroke="#c0c0c0" stroke-width="0.6"/>
<path d="M778.6999999999999,910.9 v12 M804.6999999999999,910.9 v12"/>
<path d="M756.6,913.5 h20.5" stroke="#a2a2a2" stroke-width="1.7" stroke-dasharray="1 0.8"/>
<path d="M756.6,916.6 h20.5" stroke="#a2a2a2" stroke-width="1.7" stroke-dasharray="1 0.8"/>
<path d="M756.6,919.7 h20.5" stroke="#a2a2a2" stroke-width="1.7" stroke-dasharray="1 0.8"/>
<path d="M781.4,913.5 h21" stroke="#a2a2a2" stroke-width="1.7" stroke-dasharray="1 0.8"/>
<path d="M781.4,916.6 h21" stroke="#a2a2a2" stroke-width="1.7" stroke-dasharray="1 0.8"/>
<path d="M781.4,919.7 h21" stroke="#a2a2a2" stroke-width="1.7" stroke-dasharray="1 0.8"/>
<path d="M807.4,913.5 h21" stroke="#a2a2a2" stroke-width="1.7" stroke-dasharray="1 0.8"/>
<path d="M807.4,916.6 h21" stroke="#a2a2a2" stroke-width="1.7" stroke-dasharray="1 0.8"/>
<path d="M807.4,919.7 h21" stroke="#a2a2a2" stroke-width="1.7" stroke-dasharray="1 0.8"/>
</g>
<g stroke="#b0b0b0" stroke-width="0.8" fill="none">
<rect x="1085.8" y="909.5" width="76.5" height="14.8"/>
<rect x="1086.8" y="910.9" width="74.5" height="12" stroke="#c0c0c0" stroke-width="0.6"/>
<path d="M1110.1,910.9 v12 M1136.1,910.9 v12"/>
<path d="M1088.0,913.5 h20.5" stroke="#a2a2a2" stroke-width="1.7" stroke-dasharray="1 0.8"/>
<path d="M1088.0,916.6 h20.5" stroke="#a2a2a2" stroke-width="1.7" stroke-dasharray="1 0.8"/>
<path d="M1088.0,919.7 h20.5" stroke="#a2a2a2" stroke-width="1.7" stroke-dasharray="1 0.8"/>
<path d="M1112.8,913.5 h21" stroke="#a2a2a2" stroke-width="1.7" stroke-dasharray="1 0.8"/>
<path d="M1112.8,916.6 h21" stroke="#a2a2a2" stroke-width="1.7" stroke-dasharray="1 0.8"/>
<path d="M1112.8,919.7 h21" stroke="#a2a2a2" stroke-width="1.7" stroke-dasharray="1 0.8"/>
<path d="M1138.8,913.5 h21" stroke="#a2a2a2" stroke-width="1.7" stroke-dasharray="1 0.8"/>
<path d="M1138.8,916.6 h21" stroke="#a2a2a2" stroke-width="1.7" stroke-dasharray="1 0.8"/>
<path d="M1138.8,919.7 h21" stroke="#a2a2a2" stroke-width="1.7" stroke-dasharray="1 0.8"/>
</g>
<g stroke="#b0b0b0" stroke-width="0.8" fill="none">
<rect x="313.3" y="1240.5" width="76.5" height="14.8"/>
<rect x="314.3" y="1241.9" width="74.5" height="12" stroke="#c0c0c0" stroke-width="0.6"/>
<path d="M337.6,1241.9 v12 M363.6,1241.9 v12"/>
<path d="M315.5,1244.5 h20.5" stroke="#a2a2a2" stroke-width="1.7" stroke-dasharray="1 0.8"/>
<path d="M315.5,1247.6 h20.5" stroke="#a2a2a2" stroke-width="1.7" stroke-dasharray="1 0.8"/>
<path d="M315.5,1250.7 h20.5" stroke="#a2a2a2" stroke-width="1.7" stroke-dasharray="1 0.8"/>
<path d="M340.3,1244.5 h21" stroke="#a2a2a2" stroke-width="1.7" stroke-dasharray="1 0.8"/>
<path d="M340.3,1247.6 h21" stroke="#a2a2a2" stroke-width="1.7" stroke-dasharray="1 0.8"/>
<path d="M340.3,1250.7 h21" stroke="#a2a2a2" stroke-width="1.7" stroke-dasharray="1 0.8"/>
<path d="M366.3,1244.5 h21" stroke="#a2a2a2" stroke-width="1.7" stroke-dasharray="1 0.8"/>
<path d="M366.3,1247.6 h21" stroke="#a2a2a2" stroke-width="1.7" stroke-dasharray="1 0.8"/>
<path d="M366.3,1250.7 h21" stroke="#a2a2a2" stroke-width="1.7" stroke-dasharray="1 0.8"/>
</g>
<g stroke="#b0b0b0" stroke-width="0.8" fill="none">
<rect x="754.4" y="1240.5" width="76.5" height="14.8"/>
<rect x="755.4" y="1241.9" width="74.5" height="12" stroke="#c0c0c0" stroke-width="0.6"/>
<path d="M778.6999999999999,1241.9 v12 M804.6999999999999,1241.9 v12"/>
<path d="M756.6,1244.5 h20.5" stroke="#a2a2a2" stroke-width="1.7" stroke-dasharray="1 0.8"/>
<path d="M756.6,1247.6 h20.5" stroke="#a2a2a2" stroke-width="1.7" stroke-dasharray="1 0.8"/>
<path d="M756.6,1250.7 h20.5" stroke="#a2a2a2" stroke-width="1.7" stroke-dasharray="1 0.8"/>
<path d="M781.4,1244.5 h21" stroke="#a2a2a2" stroke-width="1.7" stroke-dasharray="1 0.8"/>
<path d="M781.4,1247.6 h21" stroke="#a2a2a2" stroke-width="1.7" stroke-dasharray="1 0.8"/>
<path d="M781.4,1250.7 h21" stroke="#a2a2a2" stroke-width="1.7" stroke-dasharray="1 0.8"/>
<path d="M807.4,1244.5 h21" stroke="#a2a2a2" stroke-width="1.7" stroke-dasharray="1 0.8"/>
<path d="M807.4,1247.6 h21" stroke="#a2a2a2" stroke-width="1.7" stroke-dasharray="1 0.8"/>
<path d="M807.4,1250.7 h21" stroke="#a2a2a2" stroke-width="1.7" stroke-dasharray="1 0.8"/>
</g>
<g stroke="#b0b0b0" stroke-width="0.8" fill="none">
<rect x="1085.8" y="1240.5" width="76.5" height="14.8"/>
<rect x="1086.8" y="1241.9" width="74.5" height="12" stroke="#c0c0c0" stroke-width="0.6"/>
<path d="M1110.1,1241.9 v12 M1136.1,1241.9 v12"/>
<path d="M1088.0,1244.5 h20.5" stroke="#a2a2a2" stroke-width="1.7" stroke-dasharray="1 0.8"/>
<path d="M1088.0,1247.6 h20.5" stroke="#a2a2a2" stroke-width="1.7" stroke-dasharray="1 0.8"/>
<path d="M1088.0,1250.7 h20.5" stroke="#a2a2a2" stroke-width="1.7" stroke-dasharray="1 0.8"/>
<path d="M1112.8,1244.5 h21" stroke="#a2a2a2" stroke-width="1.7" stroke-dasharray="1 0.8"/>
<path d="M1112.8,1247.6 h21" stroke="#a2a2a2" stroke-width="1.7" stroke-dasharray="1 0.8"/>
<path d="M1112.8,1250.7 h21" stroke="#a2a2a2" stroke-width="1.7" stroke-dasharray="1 0.8"/>
<path d="M1138.8,1244.5 h21" stroke="#a2a2a2" stroke-width="1.7" stroke-dasharray="1 0.8"/>
<path d="M1138.8,1247.6 h21" stroke="#a2a2a2" stroke-width="1.7" stroke-dasharray="1 0.8"/>
<path d="M1138.8,1250.7 h21" stroke="#a2a2a2" stroke-width="1.7" stroke-dasharray="1 0.8"/>
</g>
</g>
<g id="circs">
<g stroke="#b0b0b0" stroke-width="0.7" fill="none">
<circle cx="351.0" cy="144.4" r="8"/>
<rect x="348.8" y="142.4" width="5" height="4.6" fill="#a0a0a0" fill-opacity="0.75" stroke="none"/>
<circle cx="351.1" cy="172.2" r="10.9"/>
<circle cx="349.0" cy="204.4" r="12.6"/>
<path d="M342.5,198.6 V210.2 M342.5,204.4 L355.4,198.8 V209.8 Z M354.6,198.8 V209.8"/>
</g>
<g stroke="#b0b0b0" stroke-width="0.7" fill="none">
<circle cx="351.0" cy="696.0" r="8"/>
<rect x="348.8" y="694.0" width="5" height="4.6" fill="#a0a0a0" fill-opacity="0.75" stroke="none"/>
<circle cx="351.1" cy="723.8" r="10.9"/>
<circle cx="349.0" cy="756.0" r="12.6"/>
<path d="M342.5,750.2 V761.8 M342.5,756.0 L355.4,750.4 V761.4 Z M354.6,750.4 V761.4"/>
</g>
<g stroke="#b0b0b0" stroke-width="0.7" fill="none">
<circle cx="351.0" cy="1357.9" r="8"/>
<rect x="348.8" y="1355.9" width="5" height="4.6" fill="#a0a0a0" fill-opacity="0.75" stroke="none"/>
<circle cx="351.1" cy="1385.7" r="10.9"/>
<circle cx="349.4" cy="1418.1" r="12.6"/>
<path d="M342.2,1391.1 q2,-1.6 3.6,-0.4 l3.4,-1.4 l0.6,-2 l0.6,3.6 q-4,2 -8.2,0.2 Z M353.2,1389.9 l4,-0.4 l2.6,-1.6 l0.6,1 q-2.6,3.2 -7.2,2.6 Z" fill="#404040" stroke="#404040" stroke-width="0.6"/>
</g>
<g stroke="#b0b0b0" stroke-width="0.7" fill="none">
<circle cx="1233.1" cy="144.4" r="8"/>
<rect x="1230.9" y="142.4" width="5" height="4.6" fill="#a0a0a0" fill-opacity="0.75" stroke="none"/>
<circle cx="1233.2" cy="172.2" r="10.9"/>
<circle cx="1231.1" cy="204.4" r="12.6"/>
<path d="M1224.6,198.6 V210.2 M1224.6,204.4 L1237.5,198.8 V209.8 Z M1236.7,198.8 V209.8"/>
</g>
<g stroke="#b0b0b0" stroke-width="0.7" fill="none">
<circle cx="1233.1" cy="696.0" r="8"/>
<rect x="1230.9" y="694.0" width="5" height="4.6" fill="#a0a0a0" fill-opacity="0.75" stroke="none"/>
<circle cx="1233.2" cy="723.8" r="10.9"/>
<circle cx="1231.1" cy="756.0" r="12.6"/>
<path d="M1224.6,750.2 V761.8 M1224.6,756.0 L1237.5,750.4 V761.4 Z M1236.7,750.4 V761.4"/>
</g>
<g stroke="#b0b0b0" stroke-width="0.7" fill="none">
<circle cx="1233.1" cy="1357.9" r="8"/>
<rect x="1230.9" y="1355.9" width="5" height="4.6" fill="#a0a0a0" fill-opacity="0.75" stroke="none"/>
<circle cx="1233.2" cy="1385.7" r="10.9"/>
<circle cx="1231.5" cy="1418.1" r="12.6"/>
<path d="M1224.3,1391.1 q2,-1.6 3.6,-0.4 l3.4,-1.4 l0.6,-2 l0.6,3.6 q-4,2 -8.2,0.2 Z M1235.3,1389.9 l4,-0.4 l2.6,-1.6 l0.6,1 q-2.6,3.2 -7.2,2.6 Z" fill="#404040" stroke="#404040" stroke-width="0.6"/>
</g>
</g>
<g id="topbox">
<rect x="721.2" y="86" width="64.6" height="46.8" fill="#fff" stroke="none"/>
<path d="M721.2,88.5 V132.8 H785.8 V88.5" fill="none" stroke="#5c5c5c" stroke-width="1.6"/>
<path d="M739.3,89.4 C750.5,89.6 750.5,103.6 738.9,104.2 M749,88.8 C752.6,92.8 752.6,100.4 748.7,104.2" fill="none" stroke="#4c4c4c" stroke-width="1.3" stroke-linecap="round"/>
</g>
<g id="fixtures">
<use href="#fy" x="410" y="209.20"/>
<use href="#fy" x="516" y="209.20"/>
<use href="#fy" x="740.5" y="209.20"/>
<use href="#fy" x="965.5" y="209.20"/>
<use href="#fy" x="1071" y="209.20"/>
<use href="#fm" x="630" y="195.20"/>
<use href="#fm" x="854.5" y="195.20"/>
<use href="#fo" x="410" y="321.30"/>
<use href="#fo" x="516" y="321.30"/>
<use href="#fo" x="965.5" y="321.30"/>
<use href="#fo" x="1071" y="321.30"/>
<use href="#fy" x="516" y="427.30"/>
<use href="#fy" x="740.5" y="427.30"/>
<use href="#fy" x="965.5" y="427.30"/>
<use href="#fm" x="616.6" y="413.50"/>
<use href="#fm" x="854.5" y="413.50"/>
<use href="#fo" x="410" y="541.25"/>
<use href="#fo" x="516" y="541.25"/>
<use href="#fo" x="965.5" y="541.25"/>
<use href="#fo" x="1071" y="541.25"/>
<use href="#fm" x="529" y="743.00"/>
<use href="#fm" x="740.5" y="743.00"/>
<use href="#fm" x="939" y="743.00"/>
<use href="#fo" x="410" y="871.35"/>
<use href="#fo" x="516" y="871.35"/>
<use href="#fo" x="965.5" y="871.35"/>
<use href="#fo" x="1071" y="871.35"/>
<use href="#fy" x="410" y="977.50"/>
<use href="#fy" x="516" y="977.50"/>
<use href="#fy" x="740.5" y="977.50"/>
<use href="#fy" x="965.5" y="977.50"/>
<use href="#fy" x="1071" y="977.50"/>
<use href="#fm" x="630" y="963.90"/>
<use href="#fm" x="854.5" y="963.90"/>
<use href="#fo" x="410" y="1092.25"/>
<use href="#fo" x="516" y="1092.25"/>
<use href="#fo" x="965.5" y="1092.25"/>
<use href="#fo" x="1071" y="1092.25"/>
<use href="#fy" x="410" y="1197.50"/>
<use href="#fy" x="516" y="1197.50"/>
<use href="#fy" x="740.5" y="1197.50"/>
<use href="#fy" x="965.5" y="1197.50"/>
<use href="#fy" x="1071" y="1197.50"/>
<use href="#fm" x="630" y="1183.90"/>
<use href="#fm" x="854.5" y="1183.90"/>
</g>
<g id="labels">
<rect x="382.55" y="209.40" width="54.9" height="26.95" rx="0.4" fill="#fff" stroke="#c6c6c6" stroke-width="0.8"/>
<text transform="translate(410.00 229.30) scale(1 1.045)" font-family="'Liberation Sans','DejaVu Sans',sans-serif" font-size="20.16" text-anchor="middle" fill="#000" stroke="#000" stroke-width="0.28">1/1</text>
<rect x="488.55" y="209.40" width="54.9" height="26.95" rx="0.4" fill="#fff" stroke="#c6c6c6" stroke-width="0.8"/>
<text transform="translate(516.00 229.30) scale(1 1.045)" font-family="'Liberation Sans','DejaVu Sans',sans-serif" font-size="20.16" text-anchor="middle" fill="#000" stroke="#000" stroke-width="0.28">1/22</text>
<rect x="713.05" y="209.40" width="54.9" height="26.95" rx="0.4" fill="#fff" stroke="#c6c6c6" stroke-width="0.8"/>
<text transform="translate(740.50 229.30) scale(1 1.045)" font-family="'Liberation Sans','DejaVu Sans',sans-serif" font-size="20.16" text-anchor="middle" fill="#000" stroke="#000" stroke-width="0.28">1/43</text>
<rect x="938.05" y="209.40" width="54.9" height="26.95" rx="0.4" fill="#fff" stroke="#c6c6c6" stroke-width="0.8"/>
<text transform="translate(965.50 229.30) scale(1 1.045)" font-family="'Liberation Sans','DejaVu Sans',sans-serif" font-size="20.16" text-anchor="middle" fill="#000" stroke="#000" stroke-width="0.28">1/64</text>
<rect x="1043.55" y="209.40" width="54.9" height="26.95" rx="0.4" fill="#fff" stroke="#c6c6c6" stroke-width="0.8"/>
<text transform="translate(1071.00 229.30) scale(1 1.045)" font-family="'Liberation Sans','DejaVu Sans',sans-serif" font-size="20.16" text-anchor="middle" fill="#000" stroke="#000" stroke-width="0.28">1/85</text>
<rect x="602.55" y="196.20" width="54.9" height="26.95" rx="0.4" fill="#fff" stroke="#c6c6c6" stroke-width="0.8"/>
<text transform="translate(630.00 216.10) scale(1 1.045)" font-family="'Liberation Sans','DejaVu Sans',sans-serif" font-size="20.16" text-anchor="middle" fill="#000" stroke="#000" stroke-width="0.28">1/106</text>
<rect x="827.05" y="196.20" width="54.9" height="26.95" rx="0.4" fill="#fff" stroke="#c6c6c6" stroke-width="0.8"/>
<text transform="translate(854.50 216.10) scale(1 1.045)" font-family="'Liberation Sans','DejaVu Sans',sans-serif" font-size="20.16" text-anchor="middle" fill="#000" stroke="#000" stroke-width="0.28">1/118</text>
<rect x="382.55" y="321.55" width="54.9" height="26.95" rx="0.4" fill="#fff" stroke="#c6c6c6" stroke-width="0.8"/>
<text transform="translate(410.00 341.45) scale(1 1.045)" font-family="'Liberation Sans','DejaVu Sans',sans-serif" font-size="20.16" text-anchor="middle" fill="#000" stroke="#000" stroke-width="0.28">1/130</text>
<rect x="488.55" y="321.55" width="54.9" height="26.95" rx="0.4" fill="#fff" stroke="#c6c6c6" stroke-width="0.8"/>
<text transform="translate(516.00 341.45) scale(1 1.045)" font-family="'Liberation Sans','DejaVu Sans',sans-serif" font-size="20.16" text-anchor="middle" fill="#000" stroke="#000" stroke-width="0.28">1/138</text>
<rect x="938.05" y="321.55" width="54.9" height="26.95" rx="0.4" fill="#fff" stroke="#c6c6c6" stroke-width="0.8"/>
<text transform="translate(965.50 341.45) scale(1 1.045)" font-family="'Liberation Sans','DejaVu Sans',sans-serif" font-size="20.16" text-anchor="middle" fill="#000" stroke="#000" stroke-width="0.28">1/146</text>
<rect x="1043.55" y="321.55" width="54.9" height="26.95" rx="0.4" fill="#fff" stroke="#c6c6c6" stroke-width="0.8"/>
<text transform="translate(1071.00 341.45) scale(1 1.045)" font-family="'Liberation Sans','DejaVu Sans',sans-serif" font-size="20.16" text-anchor="middle" fill="#000" stroke="#000" stroke-width="0.28">1/154</text>
<rect x="488.55" y="427.50" width="54.9" height="26.95" rx="0.4" fill="#fff" stroke="#c6c6c6" stroke-width="0.8"/>
<text transform="translate(516.00 447.40) scale(1 1.045)" font-family="'Liberation Sans','DejaVu Sans',sans-serif" font-size="20.16" text-anchor="middle" fill="#000" stroke="#000" stroke-width="0.28">2/1</text>
<rect x="713.05" y="427.50" width="54.9" height="26.95" rx="0.4" fill="#fff" stroke="#c6c6c6" stroke-width="0.8"/>
<text transform="translate(740.50 447.40) scale(1 1.045)" font-family="'Liberation Sans','DejaVu Sans',sans-serif" font-size="20.16" text-anchor="middle" fill="#000" stroke="#000" stroke-width="0.28">2/22</text>
<rect x="938.05" y="427.50" width="54.9" height="26.95" rx="0.4" fill="#fff" stroke="#c6c6c6" stroke-width="0.8"/>
<text transform="translate(965.50 447.40) scale(1 1.045)" font-family="'Liberation Sans','DejaVu Sans',sans-serif" font-size="20.16" text-anchor="middle" fill="#000" stroke="#000" stroke-width="0.28">2/43</text>
<rect x="589.15" y="414.50" width="54.9" height="26.95" rx="0.4" fill="#fff" stroke="#c6c6c6" stroke-width="0.8"/>
<text transform="translate(616.60 434.40) scale(1 1.045)" font-family="'Liberation Sans','DejaVu Sans',sans-serif" font-size="20.16" text-anchor="middle" fill="#000" stroke="#000" stroke-width="0.28">2/64</text>
<rect x="827.05" y="414.50" width="54.9" height="26.95" rx="0.4" fill="#fff" stroke="#c6c6c6" stroke-width="0.8"/>
<text transform="translate(854.50 434.40) scale(1 1.045)" font-family="'Liberation Sans','DejaVu Sans',sans-serif" font-size="20.16" text-anchor="middle" fill="#000" stroke="#000" stroke-width="0.28">2/76</text>
<rect x="382.55" y="541.50" width="54.9" height="26.95" rx="0.4" fill="#fff" stroke="#c6c6c6" stroke-width="0.8"/>
<text transform="translate(410.00 561.40) scale(1 1.045)" font-family="'Liberation Sans','DejaVu Sans',sans-serif" font-size="20.16" text-anchor="middle" fill="#000" stroke="#000" stroke-width="0.28">2/88</text>
<rect x="488.55" y="541.50" width="54.9" height="26.95" rx="0.4" fill="#fff" stroke="#c6c6c6" stroke-width="0.8"/>
<text transform="translate(516.00 561.40) scale(1 1.045)" font-family="'Liberation Sans','DejaVu Sans',sans-serif" font-size="20.16" text-anchor="middle" fill="#000" stroke="#000" stroke-width="0.28">2/96</text>
<rect x="938.05" y="541.50" width="54.9" height="26.95" rx="0.4" fill="#fff" stroke="#c6c6c6" stroke-width="0.8"/>
<text transform="translate(965.50 561.40) scale(1 1.045)" font-family="'Liberation Sans','DejaVu Sans',sans-serif" font-size="20.16" text-anchor="middle" fill="#000" stroke="#000" stroke-width="0.28">2/104</text>
<rect x="1043.55" y="541.50" width="54.9" height="26.95" rx="0.4" fill="#fff" stroke="#c6c6c6" stroke-width="0.8"/>
<text transform="translate(1071.00 561.40) scale(1 1.045)" font-family="'Liberation Sans','DejaVu Sans',sans-serif" font-size="20.16" text-anchor="middle" fill="#000" stroke="#000" stroke-width="0.28">2/112</text>
<rect x="501.55" y="744.00" width="54.9" height="26.95" rx="0.4" fill="#fff" stroke="#c6c6c6" stroke-width="0.8"/>
<text transform="translate(529.00 763.90) scale(1 1.045)" font-family="'Liberation Sans','DejaVu Sans',sans-serif" font-size="20.16" text-anchor="middle" fill="#000" stroke="#000" stroke-width="0.28">3/1</text>
<rect x="713.05" y="744.00" width="54.9" height="26.95" rx="0.4" fill="#fff" stroke="#c6c6c6" stroke-width="0.8"/>
<text transform="translate(740.50 763.90) scale(1 1.045)" font-family="'Liberation Sans','DejaVu Sans',sans-serif" font-size="20.16" text-anchor="middle" fill="#000" stroke="#000" stroke-width="0.28">3/13</text>
<rect x="911.55" y="744.00" width="54.9" height="26.95" rx="0.4" fill="#fff" stroke="#c6c6c6" stroke-width="0.8"/>
<text transform="translate(939.00 763.90) scale(1 1.045)" font-family="'Liberation Sans','DejaVu Sans',sans-serif" font-size="20.16" text-anchor="middle" fill="#000" stroke="#000" stroke-width="0.28">3/25</text>
<rect x="382.55" y="871.60" width="54.9" height="26.95" rx="0.4" fill="#fff" stroke="#c6c6c6" stroke-width="0.8"/>
<text transform="translate(410.00 891.50) scale(1 1.045)" font-family="'Liberation Sans','DejaVu Sans',sans-serif" font-size="20.16" text-anchor="middle" fill="#000" stroke="#000" stroke-width="0.28">4/1</text>
<rect x="488.55" y="871.60" width="54.9" height="26.95" rx="0.4" fill="#fff" stroke="#c6c6c6" stroke-width="0.8"/>
<text transform="translate(516.00 891.50) scale(1 1.045)" font-family="'Liberation Sans','DejaVu Sans',sans-serif" font-size="20.16" text-anchor="middle" fill="#000" stroke="#000" stroke-width="0.28">4/9</text>
<rect x="938.05" y="871.60" width="54.9" height="26.95" rx="0.4" fill="#fff" stroke="#c6c6c6" stroke-width="0.8"/>
<text transform="translate(965.50 891.50) scale(1 1.045)" font-family="'Liberation Sans','DejaVu Sans',sans-serif" font-size="20.16" text-anchor="middle" fill="#000" stroke="#000" stroke-width="0.28">4/17</text>
<rect x="1043.55" y="871.60" width="54.9" height="26.95" rx="0.4" fill="#fff" stroke="#c6c6c6" stroke-width="0.8"/>
<text transform="translate(1071.00 891.50) scale(1 1.045)" font-family="'Liberation Sans','DejaVu Sans',sans-serif" font-size="20.16" text-anchor="middle" fill="#000" stroke="#000" stroke-width="0.28">4/25</text>
<rect x="382.55" y="977.70" width="54.9" height="26.95" rx="0.4" fill="#fff" stroke="#c6c6c6" stroke-width="0.8"/>
<text transform="translate(410.00 997.60) scale(1 1.045)" font-family="'Liberation Sans','DejaVu Sans',sans-serif" font-size="20.16" text-anchor="middle" fill="#000" stroke="#000" stroke-width="0.28">4/33</text>
<rect x="488.55" y="977.70" width="54.9" height="26.95" rx="0.4" fill="#fff" stroke="#c6c6c6" stroke-width="0.8"/>
<text transform="translate(516.00 997.60) scale(1 1.045)" font-family="'Liberation Sans','DejaVu Sans',sans-serif" font-size="20.16" text-anchor="middle" fill="#000" stroke="#000" stroke-width="0.28">4/54</text>
<rect x="713.05" y="977.70" width="54.9" height="26.95" rx="0.4" fill="#fff" stroke="#c6c6c6" stroke-width="0.8"/>
<text transform="translate(740.50 997.60) scale(1 1.045)" font-family="'Liberation Sans','DejaVu Sans',sans-serif" font-size="20.16" text-anchor="middle" fill="#000" stroke="#000" stroke-width="0.28">4/75</text>
<rect x="938.05" y="977.70" width="54.9" height="26.95" rx="0.4" fill="#fff" stroke="#c6c6c6" stroke-width="0.8"/>
<text transform="translate(965.50 997.60) scale(1 1.045)" font-family="'Liberation Sans','DejaVu Sans',sans-serif" font-size="20.16" text-anchor="middle" fill="#000" stroke="#000" stroke-width="0.28">4/96</text>
<rect x="1043.55" y="977.70" width="54.9" height="26.95" rx="0.4" fill="#fff" stroke="#c6c6c6" stroke-width="0.8"/>
<text transform="translate(1071.00 997.60) scale(1 1.045)" font-family="'Liberation Sans','DejaVu Sans',sans-serif" font-size="20.16" text-anchor="middle" fill="#000" stroke="#000" stroke-width="0.28">4/117</text>
<rect x="602.55" y="964.90" width="54.9" height="26.95" rx="0.4" fill="#fff" stroke="#c6c6c6" stroke-width="0.8"/>
<text transform="translate(630.00 984.80) scale(1 1.045)" font-family="'Liberation Sans','DejaVu Sans',sans-serif" font-size="20.16" text-anchor="middle" fill="#000" stroke="#000" stroke-width="0.28">4/138</text>
<rect x="827.05" y="964.90" width="54.9" height="26.95" rx="0.4" fill="#fff" stroke="#c6c6c6" stroke-width="0.8"/>
<text transform="translate(854.50 984.80) scale(1 1.045)" font-family="'Liberation Sans','DejaVu Sans',sans-serif" font-size="20.16" text-anchor="middle" fill="#000" stroke="#000" stroke-width="0.28">4/150</text>
<rect x="382.55" y="1092.50" width="54.9" height="26.95" rx="0.4" fill="#fff" stroke="#c6c6c6" stroke-width="0.8"/>
<text transform="translate(410.00 1112.40) scale(1 1.045)" font-family="'Liberation Sans','DejaVu Sans',sans-serif" font-size="20.16" text-anchor="middle" fill="#000" stroke="#000" stroke-width="0.28">5/1</text>
<rect x="488.55" y="1092.50" width="54.9" height="26.95" rx="0.4" fill="#fff" stroke="#c6c6c6" stroke-width="0.8"/>
<text transform="translate(516.00 1112.40) scale(1 1.045)" font-family="'Liberation Sans','DejaVu Sans',sans-serif" font-size="20.16" text-anchor="middle" fill="#000" stroke="#000" stroke-width="0.28">5/9</text>
<rect x="938.05" y="1092.50" width="54.9" height="26.95" rx="0.4" fill="#fff" stroke="#c6c6c6" stroke-width="0.8"/>
<text transform="translate(965.50 1112.40) scale(1 1.045)" font-family="'Liberation Sans','DejaVu Sans',sans-serif" font-size="20.16" text-anchor="middle" fill="#000" stroke="#000" stroke-width="0.28">5/17</text>
<rect x="1043.55" y="1092.50" width="54.9" height="26.95" rx="0.4" fill="#fff" stroke="#c6c6c6" stroke-width="0.8"/>
<text transform="translate(1071.00 1112.40) scale(1 1.045)" font-family="'Liberation Sans','DejaVu Sans',sans-serif" font-size="20.16" text-anchor="middle" fill="#000" stroke="#000" stroke-width="0.28">5/25</text>
<rect x="382.55" y="1197.70" width="54.9" height="26.95" rx="0.4" fill="#fff" stroke="#c6c6c6" stroke-width="0.8"/>
<text transform="translate(410.00 1217.60) scale(1 1.045)" font-family="'Liberation Sans','DejaVu Sans',sans-serif" font-size="20.16" text-anchor="middle" fill="#000" stroke="#000" stroke-width="0.28">5/33</text>
<rect x="488.55" y="1197.70" width="54.9" height="26.95" rx="0.4" fill="#fff" stroke="#c6c6c6" stroke-width="0.8"/>
<text transform="translate(516.00 1217.60) scale(1 1.045)" font-family="'Liberation Sans','DejaVu Sans',sans-serif" font-size="20.16" text-anchor="middle" fill="#000" stroke="#000" stroke-width="0.28">5/54</text>
<rect x="713.05" y="1197.70" width="54.9" height="26.95" rx="0.4" fill="#fff" stroke="#c6c6c6" stroke-width="0.8"/>
<text transform="translate(740.50 1217.60) scale(1 1.045)" font-family="'Liberation Sans','DejaVu Sans',sans-serif" font-size="20.16" text-anchor="middle" fill="#000" stroke="#000" stroke-width="0.28">5/75</text>
<rect x="938.05" y="1197.70" width="54.9" height="26.95" rx="0.4" fill="#fff" stroke="#c6c6c6" stroke-width="0.8"/>
<text transform="translate(965.50 1217.60) scale(1 1.045)" font-family="'Liberation Sans','DejaVu Sans',sans-serif" font-size="20.16" text-anchor="middle" fill="#000" stroke="#000" stroke-width="0.28">5/96</text>
<rect x="1043.55" y="1197.70" width="54.9" height="26.95" rx="0.4" fill="#fff" stroke="#c6c6c6" stroke-width="0.8"/>
<text transform="translate(1071.00 1217.60) scale(1 1.045)" font-family="'Liberation Sans','DejaVu Sans',sans-serif" font-size="20.16" text-anchor="middle" fill="#000" stroke="#000" stroke-width="0.28">5/117</text>
<rect x="602.55" y="1184.90" width="54.9" height="26.95" rx="0.4" fill="#fff" stroke="#c6c6c6" stroke-width="0.8"/>
<text transform="translate(630.00 1204.80) scale(1 1.045)" font-family="'Liberation Sans','DejaVu Sans',sans-serif" font-size="20.16" text-anchor="middle" fill="#000" stroke="#000" stroke-width="0.28">5/138</text>
<rect x="827.05" y="1184.90" width="54.9" height="26.95" rx="0.4" fill="#fff" stroke="#c6c6c6" stroke-width="0.8"/>
<text transform="translate(854.50 1204.80) scale(1 1.045)" font-family="'Liberation Sans','DejaVu Sans',sans-serif" font-size="20.16" text-anchor="middle" fill="#000" stroke="#000" stroke-width="0.28">5/150</text>
</g>
<text transform="translate(0 54.05) scale(1 0.955)" font-family="'Liberation Sans','DejaVu Sans',sans-serif" font-size="43.68" text-anchor="start" direction="rtl" fill="#000" xml:space="preserve"><tspan x="1270.5" y="0" textLength="66.98" lengthAdjust="spacingAndGlyphs">ניסן</tspan> <tspan x="1190.52" y="0" textLength="84.62" lengthAdjust="spacingAndGlyphs">נתיב</tspan> <tspan x="1093.62" y="0" textLength="141.91" lengthAdjust="spacingAndGlyphs">ירושלים</tspan> <tspan x="940.33" y="0" textLength="17.76" lengthAdjust="spacingAndGlyphs">-</tspan> <tspan x="910.51" y="0" textLength="130.62" lengthAdjust="spacingAndGlyphs">כתובות</tspan> <tspan x="766.44" y="0" textLength="128.95" lengthAdjust="spacingAndGlyphs">ומיקומי</tspan> <tspan x="625.22" y="0" textLength="110.02" lengthAdjust="spacingAndGlyphs">פנסים</tspan> <tspan x="503.38" y="0" textLength="17.76" lengthAdjust="spacingAndGlyphs">-</tspan> <tspan x="474.65" y="0" textLength="189.57" lengthAdjust="spacingAndGlyphs">בלאקבוקס</tspan></text>
<g id="legend">
<path d="M1478.5,11.6 V1413" stroke="#d3d3d3" stroke-width="1"/>
<path d="M1490,117.5 H2000" stroke="#d3d3d3" stroke-width="1"/>
<path d="M1490,376.5 H2000" stroke="#d3d3d3" stroke-width="1"/>
<text transform="translate(1745.0 90.4) scale(0.97 0.955)" font-family="'Liberation Sans','DejaVu Sans',sans-serif" font-size="43.68" text-anchor="middle" fill="#000">מקרא</text>
<text transform="translate(1744.1 349.1) scale(0.97 0.955)" font-family="'Liberation Sans','DejaVu Sans',sans-serif" font-size="43.68" text-anchor="middle" fill="#000">מוד</text>
<text transform="translate(1610.80 159.00) scale(1 1.05)" font-family="'Liberation Sans','DejaVu Sans',sans-serif" font-size="20.16" text-anchor="start" fill="#000" stroke="#000" stroke-width="0.28">PROLIGHTS-ECLFRESNELTWBK</text>
<text transform="translate(1961.80 159.00) scale(1 1.05)" font-family="'Liberation Sans','DejaVu Sans',sans-serif" font-size="20.16" text-anchor="start" fill="#000" stroke="#000" stroke-width="0.28">18</text>
<text transform="translate(1610.80 219.40) scale(1 1.05)" font-family="'Liberation Sans','DejaVu Sans',sans-serif" font-size="20.16" text-anchor="start" fill="#000" stroke="#000" stroke-width="0.28">PROLIGHTS-STUDIOCOBFC-60</text>
<text transform="translate(1961.80 219.40) scale(1 1.05)" font-family="'Liberation Sans','DejaVu Sans',sans-serif" font-size="20.16" text-anchor="start" fill="#000" stroke="#000" stroke-width="0.28">16</text>
<text transform="translate(1610.80 279.80) scale(1 1.05)" font-family="'Liberation Sans','DejaVu Sans',sans-serif" font-size="20.16" text-anchor="start" fill="#000" stroke="#000" stroke-width="0.28">PROLIGHTS-ECLCTPLUS-36</text>
<text transform="translate(1961.80 279.80) scale(1 1.05)" font-family="'Liberation Sans','DejaVu Sans',sans-serif" font-size="20.16" text-anchor="start" fill="#000" stroke="#000" stroke-width="0.28">11</text>
<text transform="translate(1610.80 417.00) scale(1 1.05)" font-family="'Liberation Sans','DejaVu Sans',sans-serif" font-size="20.16" text-anchor="start" fill="#000" stroke="#000" stroke-width="0.28">Prolights Fresnel TW - 21CH</text>
<text transform="translate(1610.80 447.60) scale(1 1.05)" font-family="'Liberation Sans','DejaVu Sans',sans-serif" font-size="20.16" text-anchor="start" fill="#000" stroke="#000" stroke-width="0.28">Prolights Studio COB - 8CH</text>
<text transform="translate(1610.80 478.20) scale(1 1.05)" font-family="'Liberation Sans','DejaVu Sans',sans-serif" font-size="20.16" text-anchor="start" fill="#000" stroke="#000" stroke-width="0.28">Prolights CT+ Profile - Extended 12CH</text>
<g transform="translate(1520.0 152.6) rotate(-90) scale(0.92) translate(0 -48.5)"><use href="#fy"/></g>
<g transform="translate(1521.4 212.6) rotate(-90) scale(0.94) translate(0 -43)"><use href="#fo"/></g>
<g transform="translate(1521 272.8) rotate(-90) scale(0.94) translate(0 -63.5)"><use href="#fm"/></g>
</g>
</svg>
</body>
</html>
